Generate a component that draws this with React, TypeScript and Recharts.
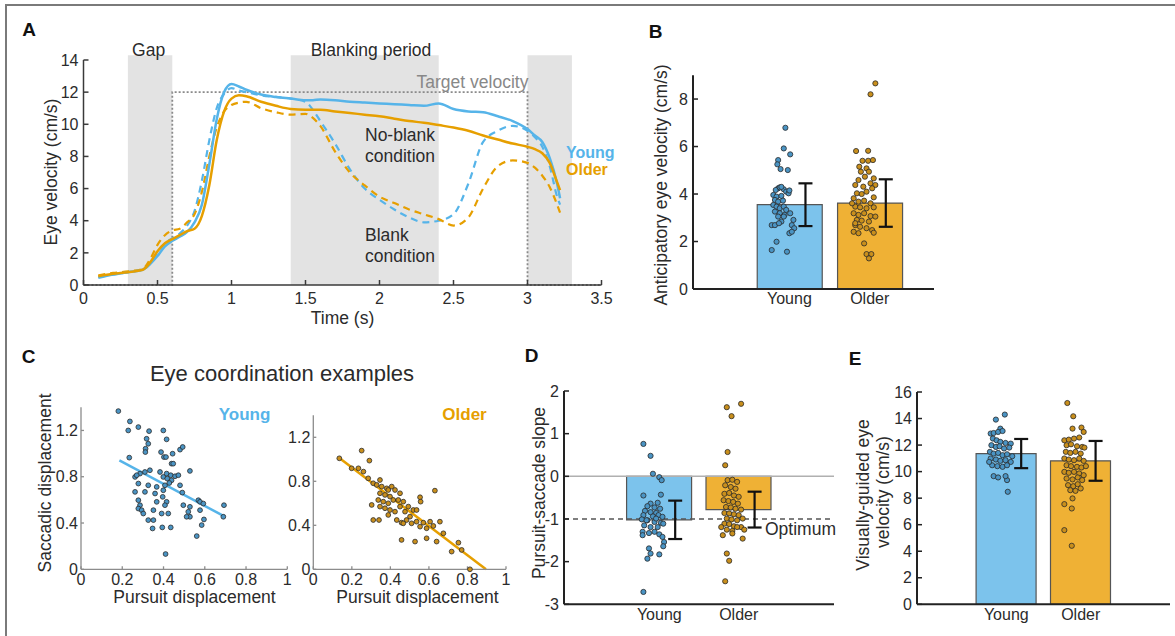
import React from 'react';
import {
  ComposedChart, Line, Bar, Cell, Scatter, ErrorBar, XAxis, YAxis, ReferenceArea, ReferenceLine,
} from 'recharts';

const BLUE = '#56B4E9';
const ORANGE = '#E69F00';
const BLUE_BAR = '#7CC3EC';
const ORANGE_BAR = '#EFB135';
const BLUE_DOT = '#4A94C4';
const ORANGE_DOT = '#C98F1C';
const INK = '#2b2b2b';
const FONT = '"Liberation Sans", Arial, Helvetica, sans-serif';

const groups = ['Young', 'Older'];

// ---- A: eye velocity traces ----
const timeS = [0.1, 0.2, 0.3, 0.4, 0.45, 0.5, 0.55, 0.6, 0.65, 0.7, 0.75, 0.8, 0.85, 0.9, 0.95, 1.0, 1.05, 1.1, 1.2, 1.3, 1.4, 1.5, 1.55, 1.6, 1.7, 1.8, 1.9, 2.0, 2.1, 2.2, 2.3, 2.4, 2.5, 2.6, 2.7, 2.8, 2.9, 3.0, 3.05, 3.1, 3.15, 3.2, 3.22];
const youngNoBlank = [0.45, 0.65, 0.8, 0.95, 1.3, 1.8, 2.4, 2.75, 3.0, 3.3, 3.9, 5.0, 7.5, 10.3, 12.0, 12.5, 12.35, 12.15, 11.85, 11.7, 11.6, 11.5, 11.5, 11.55, 11.5, 11.4, 11.35, 11.3, 11.25, 11.2, 11.15, 11.3, 10.95, 10.8, 10.75, 10.5, 10.2, 9.7, 9.3, 8.9, 7.9, 6.3, 5.4];
const youngBlank = [0.5, 0.65, 0.8, 0.95, 1.4, 2.0, 2.6, 2.9, 3.2, 3.7, 4.6, 6.5, 9.0, 11.0, 11.9, 12.25, 12.1, 12.0, 11.8, 11.7, 11.6, 11.4, 10.9, 10.2, 8.8, 7.2, 6.0, 5.3, 4.7, 4.2, 3.9, 4.0, 4.4, 6.3, 8.9, 9.6, 9.9, 9.6, 9.2, 8.6, 7.4, 5.5, 5.0];
const olderNoBlank = [0.55, 0.7, 0.8, 0.95, 1.4, 2.1, 2.6, 2.85, 3.1, 3.35, 3.5, 4.3, 6.2, 9.0, 10.8, 11.6, 11.8, 11.75, 11.4, 11.15, 10.95, 10.9, 10.9, 10.9, 10.8, 10.7, 10.6, 10.5, 10.35, 10.2, 10.1, 9.95, 9.8, 9.6, 9.3, 9.05, 8.8, 8.6, 8.45, 8.2, 7.6, 6.4, 5.9];
const olderBlank = [0.6, 0.75, 0.85, 1.0, 1.6, 2.5, 3.1, 3.4, 3.5, 3.9, 4.4, 5.8, 8.0, 9.8, 10.8, 11.2, 11.35, 11.4, 11.0, 10.75, 10.6, 10.65, 10.4, 9.9, 8.3, 7.0, 6.2, 5.5, 5.1, 4.7, 4.4, 4.1, 3.7, 4.2, 6.0, 7.4, 7.75, 7.6, 7.3, 6.8, 6.1, 5.0, 4.5];
const targetT = [0, 0.6, 0.6, 3, 3, 3.5];
const targetV = [0, 0, 12, 12, 0, 0];
const greyBands = [[0.3, 0.6], [1.4, 2.4], [3.0, 3.3]];
const timeTicks = [0, 0.5, 1, 1.5, 2, 2.5, 3, 3.5];
const velTicks = [0, 2, 4, 6, 8, 10, 12, 14];

// ---- B: anticipatory eye velocity ----
const anticipMean = [3.55, 3.62];
const anticipSD = [0.9, 1.0];
const anticipYoung = [[0.95, 6.79], [0.93, 5.92], [1.01, 5.67], [0.86, 5.43], [0.85, 5.25], [0.89, 5.05], [0.98, 5.01], [0.86, 4.24], [0.83, 4.17], [0.88, 4.28], [0.93, 4.2], [0.96, 4.1], [0.99, 4.03], [0.8, 3.96], [0.84, 3.89], [0.9, 3.92], [0.82, 3.75], [0.86, 3.68], [0.92, 3.72], [0.8, 3.54], [0.84, 3.47], [0.88, 3.4], [0.93, 3.47], [0.96, 3.33], [0.82, 3.26], [0.88, 3.19], [0.94, 3.12], [1.01, 3.19], [1.05, 2.91], [0.9, 2.84], [0.78, 2.69], [0.82, 2.69], [0.87, 2.77], [1.03, 2.69], [1.06, 2.56], [1.0, 2.35], [1.03, 2.41], [0.84, 1.99], [0.78, 1.64], [0.97, 1.57], [0.93, 3.05], [0.86, 3.05], [1.0, 4.15], [0.9, 4.3]];
const anticipOlder = [[2.07, 8.66], [2.01, 8.2], [1.83, 5.81], [1.98, 5.82], [1.91, 5.4], [1.98, 5.4], [2.04, 5.43], [1.87, 5.15], [1.96, 5.08], [1.89, 4.94], [1.99, 4.94], [1.94, 4.73], [2.05, 4.66], [1.86, 4.59], [2.01, 4.45], [2.07, 4.38], [1.82, 4.38], [1.92, 4.31], [2.03, 4.24], [1.84, 4.03], [1.9, 4.0], [1.96, 4.1], [2.05, 3.86], [1.8, 3.82], [1.86, 3.68], [1.93, 3.72], [2.01, 3.61], [1.82, 3.47], [1.88, 3.44], [1.96, 3.4], [2.05, 3.44], [1.8, 3.19], [1.86, 3.12], [1.93, 3.19], [2.01, 3.07], [1.84, 2.91], [1.9, 2.88], [1.99, 2.84], [1.82, 2.69], [1.88, 2.62], [1.96, 2.56], [2.03, 2.48], [1.8, 2.41], [1.86, 2.35], [2.05, 2.37], [1.93, 1.92], [1.96, 1.47], [2.02, 1.47], [1.99, 1.29], [2.07, 3.05], [1.78, 3.61], [1.82, 2.77]];

// ---- C: coordination examples ----
const coordYoung = [[0.181, 1.367], [0.237, 1.278], [0.229, 1.2], [0.278, 1.229], [0.33, 1.194], [0.399, 1.2], [0.415, 1.123], [0.318, 1.128], [0.326, 1.085], [0.313, 1.042], [0.312, 1.013], [0.388, 1.013], [0.48, 1.034], [0.493, 1.057], [0.402, 0.97], [0.412, 0.97], [0.439, 0.913], [0.447, 0.913], [0.334, 0.856], [0.31, 0.841], [0.286, 0.827], [0.262, 0.798], [0.27, 0.813], [0.383, 0.841], [0.415, 0.827], [0.435, 0.813], [0.456, 0.804], [0.472, 0.813], [0.528, 0.85], [0.399, 0.798], [0.418, 0.784], [0.439, 0.769], [0.428, 0.746], [0.407, 0.726], [0.48, 0.726], [0.278, 0.741], [0.326, 0.726], [0.367, 0.712], [0.262, 0.669], [0.31, 0.669], [0.359, 0.655], [0.399, 0.683], [0.491, 0.663], [0.396, 0.626], [0.415, 0.583], [0.367, 0.583], [0.407, 0.554], [0.278, 0.597], [0.286, 0.554], [0.496, 0.554], [0.528, 0.54], [0.569, 0.597], [0.577, 0.583], [0.593, 0.568], [0.278, 0.525], [0.294, 0.511], [0.302, 0.482], [0.351, 0.511], [0.391, 0.482], [0.423, 0.482], [0.52, 0.497], [0.528, 0.454], [0.577, 0.511], [0.596, 0.431], [0.326, 0.425], [0.351, 0.425], [0.585, 0.382], [0.347, 0.353], [0.394, 0.362], [0.435, 0.362], [0.561, 0.287], [0.41, 0.132], [0.693, 0.554], [0.69, 0.454], [0.234, 0.965], [0.512, 0.454], [0.444, 0.999]];
const coordOlder = [[0.135, 1.009], [0.251, 1.079], [0.291, 0.988], [0.234, 0.918], [0.26, 0.888], [0.199, 0.918], [0.285, 0.827], [0.311, 0.782], [0.346, 0.812], [0.329, 0.767], [0.355, 0.752], [0.381, 0.736], [0.407, 0.752], [0.424, 0.721], [0.45, 0.691], [0.346, 0.691], [0.372, 0.676], [0.398, 0.661], [0.337, 0.63], [0.363, 0.615], [0.389, 0.6], [0.415, 0.63], [0.441, 0.63], [0.467, 0.615], [0.493, 0.57], [0.519, 0.539], [0.554, 0.655], [0.631, 0.715], [0.346, 0.57], [0.372, 0.555], [0.398, 0.539], [0.424, 0.524], [0.45, 0.57], [0.476, 0.524], [0.536, 0.539], [0.557, 0.615], [0.341, 0.448], [0.389, 0.494], [0.433, 0.448], [0.458, 0.424], [0.484, 0.448], [0.51, 0.418], [0.536, 0.433], [0.571, 0.424], [0.606, 0.433], [0.657, 0.433], [0.554, 0.388], [0.588, 0.373], [0.623, 0.394], [0.675, 0.327], [0.528, 0.252], [0.458, 0.267], [0.588, 0.282], [0.64, 0.252], [0.718, 0.161], [0.753, 0.242], [0.77, 0.176], [0.813, 0.0], [0.389, 0.721], [0.467, 0.418], [0.502, 0.479], [0.303, 0.585], [0.311, 0.448]];
const fitYoung = [[0.186, 0.942], [0.693, 0.459]];
const fitOlder = [[0.13, 1.018], [0.896, 0]];
const dispTicks = [0, 0.2, 0.4, 0.6, 0.8, 1];
const saccTicks = [0, 0.4, 0.8, 1.2];

// ---- D: pursuit-saccade slope ----
const slopeMean = [-1.02, -0.78];
const slopeSD = [0.45, 0.42];
const slopeYoung = [[0.8, 0.76], [0.89, 0.48], [0.92, 0.06], [1.0, -0.02], [1.03, -0.09], [0.8, -0.45], [1.02, -0.43], [0.89, -0.64], [0.98, -0.62], [0.85, -0.7], [0.94, -0.73], [1.01, -0.76], [0.82, -0.81], [0.89, -0.84], [0.96, -0.86], [0.8, -0.91], [0.92, -0.94], [0.99, -0.91], [1.04, -0.95], [0.78, -1.01], [0.85, -1.03], [0.94, -1.07], [1.02, -1.09], [0.81, -1.15], [0.89, -1.19], [0.98, -1.19], [1.05, -1.11], [0.79, -1.3], [0.94, -1.3], [1.0, -1.36], [0.79, -1.38], [0.87, -1.33], [1.04, -1.42], [1.06, -1.54], [1.05, -1.64], [0.87, -1.69], [0.89, -1.81], [0.85, -1.93], [1.0, -1.83], [0.84, -1.03], [0.96, -0.99], [0.8, -2.71]];
const slopeOlder = [[1.85, 1.62], [2.03, 1.7], [1.91, 1.41], [1.86, 0.57], [1.83, 0.26], [1.86, -0.09], [1.92, -0.08], [1.98, -0.13], [1.83, -0.21], [1.9, -0.25], [1.96, -0.29], [1.82, -0.41], [1.88, -0.39], [1.94, -0.45], [2.0, -0.48], [1.81, -0.56], [1.87, -0.58], [1.93, -0.6], [1.99, -0.64], [1.84, -0.72], [1.9, -0.73], [1.96, -0.76], [2.03, -0.78], [1.82, -0.86], [1.88, -0.87], [1.94, -0.89], [2.0, -0.91], [1.85, -0.99], [1.91, -1.01], [1.98, -1.03], [2.05, -0.99], [1.82, -1.11], [1.88, -1.12], [1.94, -1.17], [2.03, -1.19], [1.85, -1.25], [1.92, -1.28], [1.8, -1.38], [1.92, -1.34], [2.07, -1.25], [2.05, -1.46], [1.85, -1.81], [1.88, -1.98], [1.83, -2.46], [1.78, -1.19], [1.98, -1.19]];

// ---- E: visually-guided eye velocity ----
const visMean = [11.36, 10.81];
const visSD = [1.1, 1.5];
const visYoung = [[0.98, 14.3], [0.86, 13.92], [0.92, 13.24], [0.79, 12.87], [0.83, 12.91], [0.89, 12.99], [0.95, 13.06], [0.82, 12.49], [0.87, 12.36], [0.92, 12.24], [0.99, 12.16], [1.06, 12.11], [0.8, 11.99], [0.86, 11.86], [0.91, 11.91], [0.97, 11.74], [1.04, 11.81], [0.78, 11.49], [0.83, 11.36], [0.89, 11.41], [0.95, 11.24], [1.01, 11.31], [1.08, 11.16], [0.79, 10.99], [0.86, 10.91], [0.92, 10.81], [0.99, 10.86], [1.06, 10.73], [0.81, 10.48], [0.88, 10.41], [0.95, 10.36], [1.01, 10.48], [0.83, 9.66], [0.89, 9.56], [1.01, 9.36], [0.99, 9.66], [1.02, 8.48], [0.77, 10.73]];
const visOlder = [[1.82, 15.17], [1.9, 14.17], [1.89, 13.24], [2.01, 13.32], [2.04, 12.99], [1.78, 12.36], [1.84, 12.41], [1.91, 12.49], [1.98, 12.57], [1.81, 11.99], [1.87, 12.06], [1.95, 11.91], [2.02, 11.86], [2.05, 11.81], [1.8, 11.49], [1.86, 11.41], [1.93, 11.49], [2.0, 11.36], [1.78, 10.99], [1.84, 10.91], [1.91, 10.86], [1.98, 10.99], [2.04, 10.81], [1.81, 10.48], [1.87, 10.41], [1.95, 10.36], [2.01, 10.31], [2.07, 10.41], [1.78, 9.98], [1.84, 9.91], [1.91, 9.98], [1.98, 9.86], [2.04, 9.73], [1.81, 9.48], [1.89, 9.41], [1.96, 9.56], [2.02, 9.36], [1.83, 8.98], [1.9, 8.9], [1.96, 9.05], [1.86, 8.6], [1.93, 8.55], [2.0, 8.73], [1.78, 7.55], [1.88, 7.22], [1.78, 5.59], [1.89, 7.98], [1.88, 4.41]];

const toXY = (pts: number[][]) => pts.map(([x, y]) => ({ x, y }));

const dotShape = (fill: string, r = 2.6) => (p: any) => (
  <circle cx={p.cx} cy={p.cy} r={r} fill={fill} stroke="#2a2a2a" strokeWidth={0.8} />
);

const tickStyle = { fontSize: 16, fill: INK };

function BarPanel(props: any) {
  const { left, top, width, height, margin, xMax, yDomain, yTicks, means, sds, young, older, barSize, children } = props;
  const bars = groups.map((g, i) => ({ x: i + 1, y: means[i], name: g }));
  const errs = groups.map((g, i) => ({ x: i + 1.2, y: means[i], sd: sds[i] }));
  return (
    <div style={{ position: 'absolute', left, top }}>
      <ComposedChart width={width} height={height} margin={margin} data={bars}>
        <XAxis dataKey="x" type="number" domain={[-0.2, xMax]} ticks={[1, 2]}
          tickFormatter={(v: number) => groups[Math.round(v) - 1]} tickLine={false} tickSize={0} tickMargin={4}
          height={25} axisLine={{ stroke: '#222', strokeWidth: 2 }} tick={tickStyle} />
        <XAxis xAxisId="dots" dataKey="x" type="number" domain={[-0.2, xMax]} hide />
        <YAxis type="number" domain={yDomain} ticks={yTicks} width={40} tickSize={-5} tickMargin={10}
          axisLine={{ stroke: '#222', strokeWidth: 2 }} tickLine={{ stroke: '#222', strokeWidth: 1.5 }} tick={tickStyle} />
        {children}
        <Bar dataKey="y" barSize={barSize} isAnimationActive={false} stroke="#555" strokeWidth={1.2}>
          {bars.map((b, i) => <Cell key={b.name} fill={i === 0 ? BLUE_BAR : ORANGE_BAR} />)}
        </Bar>
        <Scatter xAxisId="dots" data={toXY(young)} dataKey="y" shape={dotShape(BLUE_DOT)} isAnimationActive={false} />
        <Scatter xAxisId="dots" data={toXY(older)} dataKey="y" shape={dotShape(ORANGE_DOT)} isAnimationActive={false} />
        <Scatter xAxisId="dots" data={errs} dataKey="y" shape={() => <g />} isAnimationActive={false}>
          <ErrorBar dataKey="sd" direction="y" width={7} stroke="#111" strokeWidth={2.2} />
        </Scatter>
      </ComposedChart>
    </div>
  );
}

function CoordPanel(props: any) {
  const { left, top, width, height, margin, dots, fit, dotColor, lineColor } = props;
  const axis = { stroke: '#8c8c8c', strokeWidth: 1.3 };
  return (
    <div style={{ position: 'absolute', left, top }}>
      <ComposedChart width={width} height={height} margin={margin}>
        <XAxis dataKey="x" type="number" domain={[0, 1]} ticks={dispTicks} height={30} tickSize={-3} tickMargin={7}
          axisLine={axis} tickLine={axis} tick={tickStyle} />
        <YAxis type="number" domain={[0, 1.4]} ticks={saccTicks} width={40} tickSize={-3} tickMargin={6}
          axisLine={axis} tickLine={axis} tick={tickStyle} />
        <Scatter data={toXY(dots)} dataKey="y" shape={dotShape(dotColor, 2.4)} isAnimationActive={false} />
        <Line data={toXY(fit)} dataKey="y" type="linear" stroke={lineColor} strokeWidth={2.5} dot={false} isAnimationActive={false} />
      </ComposedChart>
    </div>
  );
}

export default function App() {
  const rowsA = timeS.map((t, i) => ({ t, yNB: youngNoBlank[i], yB: youngBlank[i], oNB: olderNoBlank[i], oB: olderBlank[i] }));
  const targetRows = targetT.map((t, i) => ({ t, v: targetV[i] }));
  const axisA = { stroke: '#3a3a3a', strokeWidth: 1.5 };
  const lbl = { fontSize: 17.5, fill: INK };
  return (
    <div style={{ position: 'absolute', left: 0, top: 0, width: 1175, height: 636, overflow: 'hidden', background: '#fff', fontFamily: FONT }}>
      {/* A */}
      <div style={{ position: 'absolute', left: 0, top: 0 }}>
        <ComposedChart width={640} height={330} margin={{ top: 60, right: 38.5, bottom: 15, left: 43.5 }} data={rowsA}>
          {greyBands.map(([a, b]) => (
            <ReferenceArea key={a} x1={a} x2={b} y1={0} y2={14.3} ifOverflow="visible" fill="#e3e3e3" fillOpacity={1} stroke="none" />
          ))}
          <XAxis dataKey="t" type="number" domain={[0, 3.5]} ticks={timeTicks} height={30} tickSize={-5} tickMargin={13}
            axisLine={axisA} tickLine={axisA} tick={tickStyle} />
          <YAxis type="number" domain={[0, 14]} ticks={velTicks} width={40} tickSize={-5} tickMargin={10}
            axisLine={axisA} tickLine={axisA} tick={tickStyle} />
          <Line data={targetRows} dataKey="v" type="linear" stroke="#8a8a8a" strokeWidth={1.8} strokeDasharray="2 2" dot={false} isAnimationActive={false} />
          <Line dataKey="yB" type="monotone" stroke={BLUE} strokeWidth={2.2} strokeDasharray="7 5" dot={false} isAnimationActive={false} />
          <Line dataKey="oB" type="monotone" stroke={ORANGE} strokeWidth={2.2} strokeDasharray="7 5" dot={false} isAnimationActive={false} />
          <Line dataKey="yNB" type="monotone" stroke={BLUE} strokeWidth={2.5} dot={false} isAnimationActive={false} />
          <Line dataKey="oNB" type="monotone" stroke={ORANGE} strokeWidth={2.5} dot={false} isAnimationActive={false} />
        </ComposedChart>
      </div>

      {/* B */}
      <BarPanel left={640} top={0} width={320} height={330} margin={{ top: 75.3, right: 26, bottom: 16, left: 13 }}
        xMax={2.8} yDomain={[0, 9]} yTicks={[0, 2, 4, 6, 8]} means={anticipMean} sds={anticipSD}
        young={anticipYoung} older={anticipOlder} barSize={65} />

      {/* C */}
      <CoordPanel left={0} top={380} width={300} height={230} margin={{ top: 27.3, right: 12.7, bottom: 10.7, left: 41 }}
        dots={coordYoung} fit={fitYoung} dotColor={BLUE_DOT} lineColor={BLUE} />
      <CoordPanel left={270} top={380} width={250} height={230} margin={{ top: 35.3, right: 14, bottom: 10.7, left: 3.3 }}
        dots={coordOlder} fit={fitOlder} dotColor={ORANGE_DOT} lineColor={ORANGE} />

      {/* D */}
      <BarPanel left={520} top={360} width={330} height={270} margin={{ top: 31, right: 16, bottom: 0.7, left: 4 }}
        xMax={3.2} yDomain={[-3, 2]} yTicks={[-3, -2, -1, 0, 1, 2]} means={slopeMean} sds={slopeSD}
        young={slopeYoung} older={slopeOlder} barSize={65}>
        <ReferenceLine y={0} stroke="#b0b0b0" strokeWidth={1.5} />
        <ReferenceLine y={-1} stroke="#555" strokeWidth={1.5} strokeDasharray="5 4" />
      </BarPanel>

      {/* E */}
      <BarPanel left={860} top={360} width={315} height={270} margin={{ top: 32, right: 5, bottom: 0.7, left: 17 }}
        xMax={3.2} yDomain={[0, 16]} yTicks={[0, 2, 4, 6, 8, 10, 12, 14, 16]} means={visMean} sds={visSD}
        young={visYoung} older={visOlder} barSize={60} />

      {/* text + frame */}
      <svg width={1175} height={636} style={{ position: 'absolute', left: 0, top: 0, pointerEvents: 'none' }} fontFamily={FONT}>
        <path d="M6,636 L6,5 L1175,5" fill="none" stroke="#7a7a7a" strokeWidth={2} />
        <g dominantBaseline="central">
          <text x={29} y={29} fontSize={19} fontWeight="bold" textAnchor="middle" fill="#111">A</text>
          <text x={148.6} y={50} textAnchor="middle" {...lbl}>Gap</text>
          <text x={371} y={50} textAnchor="middle" {...lbl}>Blanking period</text>
          <text x={472.5} y={82} textAnchor="middle" fontSize={17.5} fill="#888">Target velocity</text>
          <text x={365} y={135} {...lbl}>No-blank</text>
          <text x={365} y={156} {...lbl}>condition</text>
          <text x={365} y={235} {...lbl}>Blank</text>
          <text x={365} y={256} {...lbl}>condition</text>
          <text x={566} y={152} fontSize={16} fontWeight="bold" fill={BLUE}>Young</text>
          <text x={566} y={169} fontSize={16} fontWeight="bold" fill={ORANGE}>Older</text>
          <text transform="translate(51,172) rotate(-90)" textAnchor="middle" {...lbl}>Eye velocity (cm/s)</text>
          <text x={342.5} y={318} textAnchor="middle" {...lbl}>Time (s)</text>

          <text x={655.5} y={31.5} fontSize={19} fontWeight="bold" textAnchor="middle" fill="#111">B</text>
          <text transform="translate(661,185) rotate(-90)" textAnchor="middle" {...lbl}>Anticipatory eye velocity (cm/s)</text>

          <text x={28.5} y={356.5} fontSize={19} fontWeight="bold" textAnchor="middle" fill="#111">C</text>
          <text x={282} y={373} fontSize={22} textAnchor="middle" fill={INK}>Eye coordination examples</text>
          <text x={244.5} y={414} fontSize={17} fontWeight="bold" textAnchor="middle" fill={BLUE}>Young</text>
          <text x={464.5} y={414} fontSize={17} fontWeight="bold" textAnchor="middle" fill={ORANGE}>Older</text>
          <text transform="translate(44.5,483) rotate(-90)" textAnchor="middle" {...lbl}>Saccadic displacement</text>
          <text x={194.5} y={597} textAnchor="middle" {...lbl}>Pursuit displacement</text>
          <text x={417.5} y={597} textAnchor="middle" {...lbl}>Pursuit displacement</text>

          <text x={531.5} y={355} fontSize={19} fontWeight="bold" textAnchor="middle" fill="#111">D</text>
          <text transform="translate(539,493) rotate(-90)" textAnchor="middle" {...lbl}>Pursuit-saccade slope</text>
          <text x={765} y={529} {...lbl}>Optimum</text>

          <text x={855} y={358.5} fontSize={19} fontWeight="bold" textAnchor="middle" fill="#111">E</text>
          <text transform="translate(863,495) rotate(-90)" textAnchor="middle" {...lbl}>Visually-guided eye</text>
          <text transform="translate(883,492) rotate(-90)" textAnchor="middle" {...lbl}>velocity (cm/s)</text>
        </g>
      </svg>
    </div>
  );
}
